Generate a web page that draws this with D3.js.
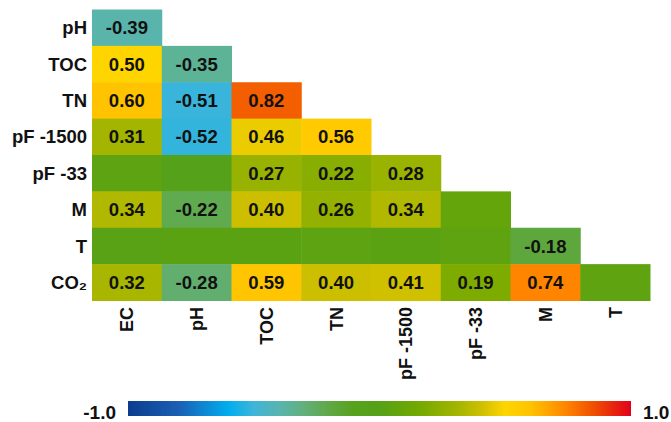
<!DOCTYPE html>
<html><head><meta charset="utf-8">
<script src="https://cdn.jsdelivr.net/npm/d3@7"></script>
<style>body{margin:0;background:#fff}svg{display:block}text{font-family:"Liberation Sans",Arial,sans-serif;font-weight:bold}</style>
</head><body><svg id="c" width="671" height="422"></svg>
<script>
const columns = ["EC","pH","TOC","TN","pF -1500","pF -33","M","T"];
const rows = ["pH","TOC","TN","pF -1500","pF -33","M","T","CO₂"];
// lower-triangle correlation values (row i has i+1 entries)
const values = [
  [-0.39],
  [0.50,-0.35],
  [0.60,-0.51,0.82],
  [0.31,-0.52,0.46,0.56],
  [0.04,-0.03,0.27,0.22,0.28],
  [0.34,-0.22,0.40,0.26,0.34,0.08],
  [0.02,0.03,0.03,0.04,0.03,0.05,-0.18],
  [0.32,-0.28,0.59,0.40,0.41,0.19,0.74,0.05]
];
// labels shown (blank = not significant)
const labels = [
  ["-0.39"],
  ["0.50","-0.35"],
  ["0.60","-0.51","0.82"],
  ["0.31","-0.52","0.46","0.56"],
  ["","","0.27","0.22","0.28"],
  ["0.34","-0.22","0.40","0.26","0.34",""],
  ["","","","","","","-0.18"],
  ["0.32","-0.28","0.59","0.40","0.41","0.19","0.74",""]
];
const colorDomain = [-1,-0.8,-0.6,-0.5,-0.4,-0.3,-0.2,-0.1,0,0.15,0.3,0.4,0.5,0.6,0.7,0.75,0.85,1];
const colorRange = ["#0b3c8e","#1a5fb4","#00aeef","#3fb5d8","#58b5b0","#62b07a","#5fa845","#56a21c","#55a118","#72a800","#a0b400","#cbbf00","#ffd500","#ffc300","#ff9800","#ff8000","#ee5000","#e2001a"];
const legendTicks = ["-1.0","1.0"];

const svg = d3.select("#c");
const color = d3.scaleLinear().domain(colorDomain).range(colorRange).clamp(true);
const x = d3.scaleBand().domain(columns).range([92,650]).padding(0);
const y = d3.scaleBand().domain(rows).range([9.5,300.5]).padding(0);

const cells = [];
values.forEach((r,i)=>r.forEach((v,j)=>cells.push({row:rows[i],col:columns[j],v,l:labels[i][j]})));

svg.append("g").selectAll("rect").data(cells).join("rect")
  .attr("x",d=>x(d.col)).attr("y",d=>y(d.row))
  .attr("width",x.bandwidth()+0.5).attr("height",y.bandwidth()+0.5)
  .attr("fill",d=>color(d.v));

svg.append("g").selectAll("text").data(cells.filter(d=>d.l)).join("text")
  .attr("x",d=>x(d.col)+x.bandwidth()/2).attr("y",d=>y(d.row)+y.bandwidth()/2)
  .attr("dy","0.36em").attr("text-anchor","middle").attr("font-size",18.5).attr("fill","#111")
  .text(d=>d.l);

svg.append("g").selectAll("text").data(rows).join("text")
  .attr("x",87).attr("y",d=>y(d)+y.bandwidth()/2).attr("dy","0.36em")
  .attr("text-anchor","end").attr("font-size",18.5).attr("fill","#111").text(d=>d);

svg.append("g").selectAll("text").data(columns).join("text")
  .attr("transform",d=>`translate(${x(d)+x.bandwidth()/2},307) rotate(-90)`)
  .attr("dy","0.36em").attr("text-anchor","end").attr("font-size",18).attr("fill","#111").text(d=>d);

// colorbar
const defs = svg.append("defs");
const grad = defs.append("linearGradient").attr("id","g").attr("x1","0%").attr("x2","100%");
const lx = d3.scaleLinear().domain([-1,1]).range([128,631]);
grad.selectAll("stop").data(d3.range(0,101)).join("stop")
  .attr("offset",d=>d+"%").attr("stop-color",d=>color(-1+d/50));
svg.append("rect").attr("x",lx(-1)).attr("y",401).attr("width",lx(1)-lx(-1)).attr("height",15).attr("fill","url(#g)");
svg.append("text").attr("x",lx(-1)-12).attr("y",419).attr("text-anchor","end").attr("font-size",19).attr("fill","#111").text(legendTicks[0]);
svg.append("text").attr("x",lx(1)+12).attr("y",419).attr("text-anchor","start").attr("font-size",19).attr("fill","#111").text(legendTicks[1]);
</script></body></html>
